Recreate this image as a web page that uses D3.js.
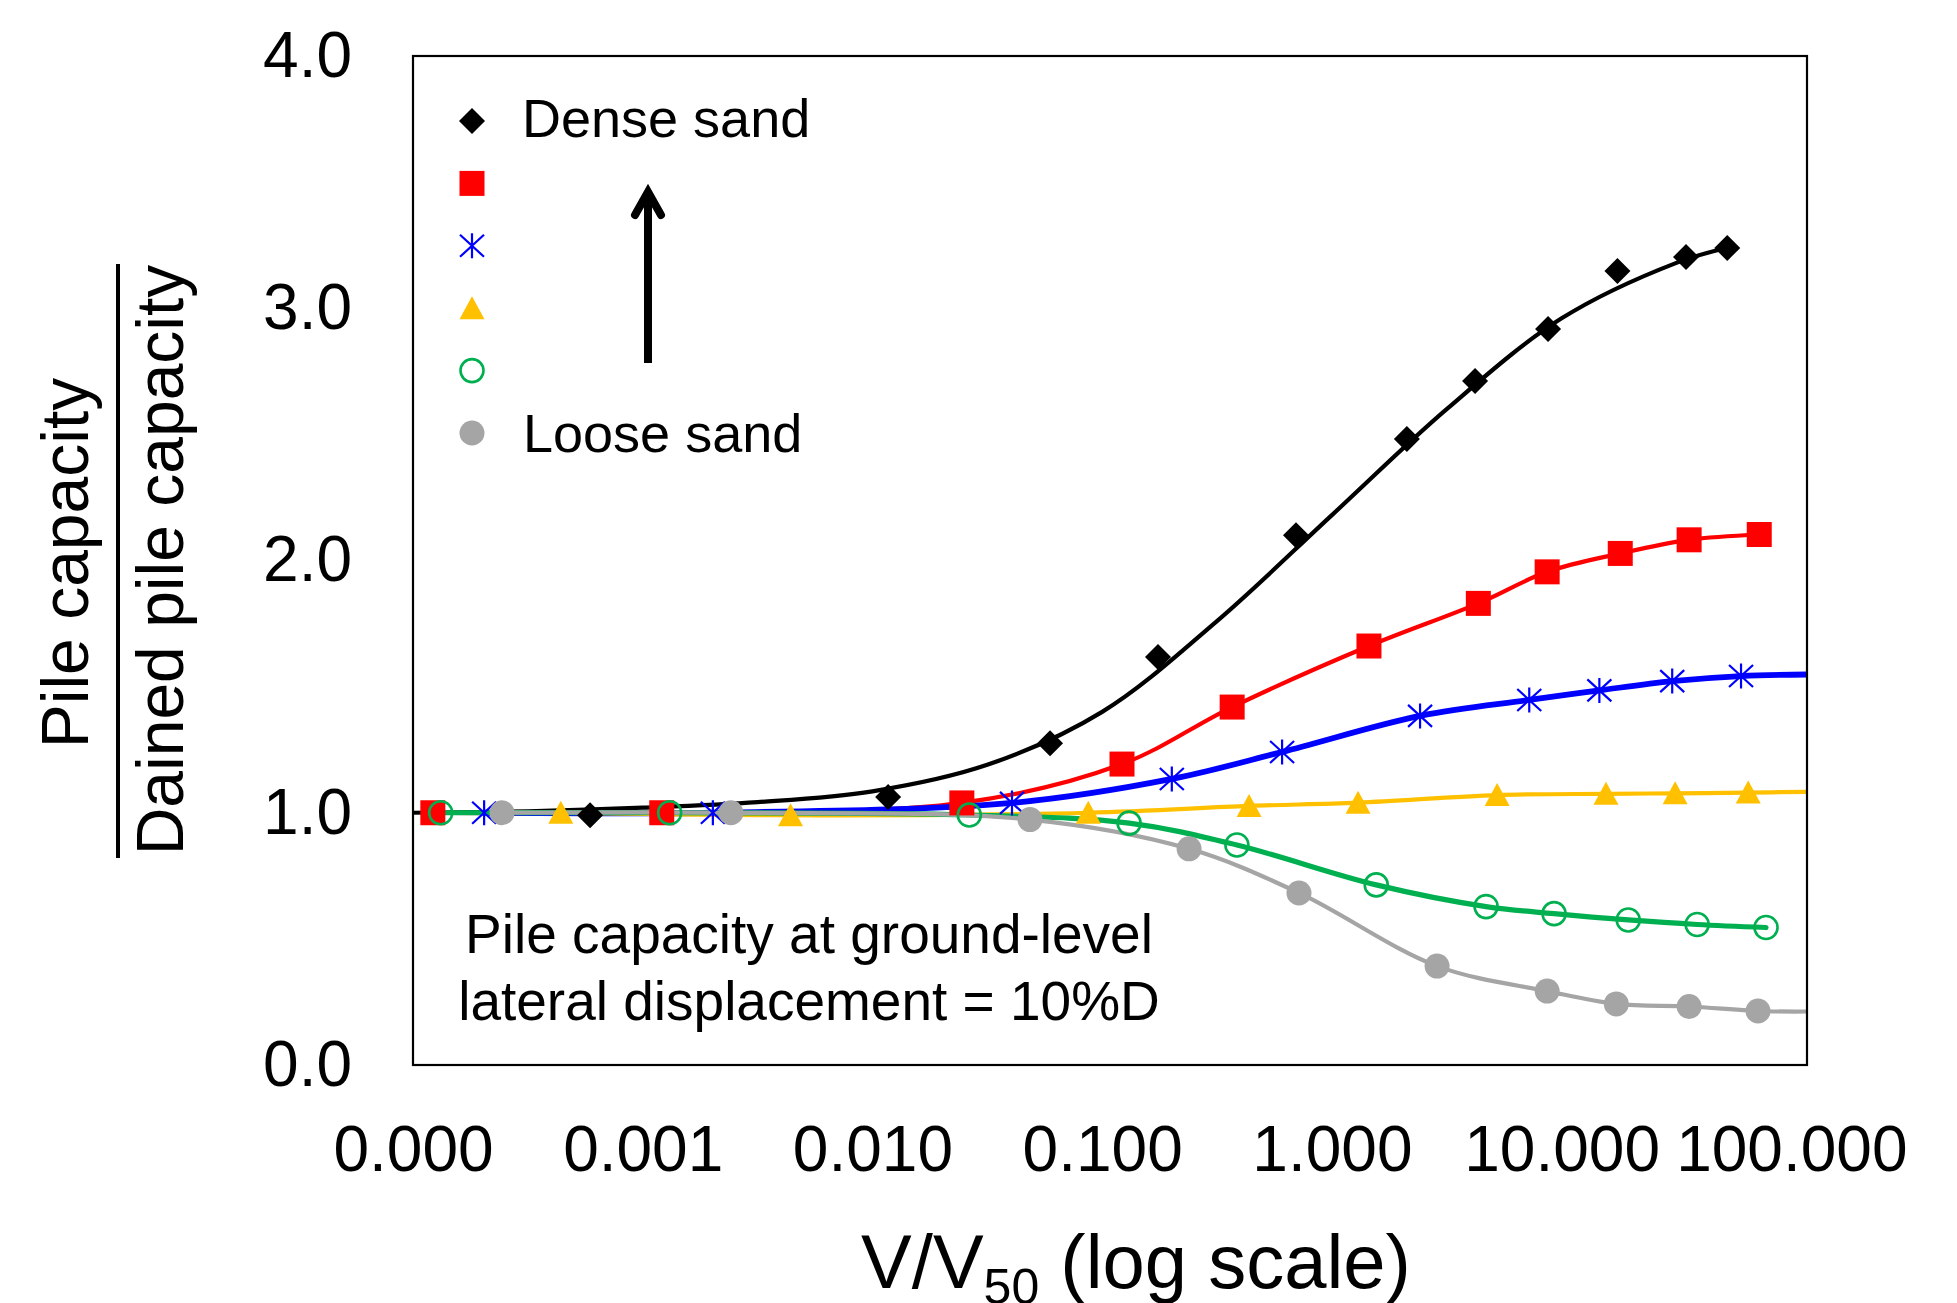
<!DOCTYPE html>
<html>
<head>
<meta charset="utf-8">
<script src="https://cdn.jsdelivr.net/npm/d3@7"></script>
<style>
  html, body { margin: 0; background: #fff; }
  svg { display: block; font-family: "Liberation Sans", Arial, Helvetica, sans-serif; }
</style>
</head>
<body>
<svg id="chart" width="1957" height="1303"></svg>
<script>
// [V/V50, pile capacity / drained pile capacity]
const dense  = [[5.9e-4, 0.99], [0.0117, 1.062], [0.0593, 1.276], [0.175, 1.617], [0.698, 2.10],
                [2.12, 2.482], [4.2, 2.712], [8.73, 2.918], [17.5, 3.148], [34.8, 3.203], [52.6, 3.239]];
const red    = [[1.22e-4, 1.0], [1.21e-3, 1.0], [0.0245, 1.039], [0.122, 1.193], [0.368, 1.419],
                [1.45, 1.661], [4.34, 1.83], [8.65, 1.955], [18.0, 2.028], [35.9, 2.082], [72.5, 2.103]];
const blue   = [[2.04e-4, 1.0], [2.02e-3, 1.0], [0.0405, 1.039], [0.201, 1.134], [0.607, 1.241],
                [2.42, 1.384], [7.23, 1.447], [14.6, 1.485], [30.3, 1.522], [60.4, 1.542]];
const yellow = [[4.4e-4, 1.0], [4.4e-3, 0.99], [0.087, 1.0], [0.436, 1.027], [1.30, 1.04],
                [5.24, 1.07], [15.6, 1.075], [31.2, 1.077], [64.9, 1.08]];
const green  = [[1.32e-4, 1.0], [1.31e-3, 1.0], [0.0264, 0.991], [0.131, 0.959], [0.386, 0.872],
                [1.56, 0.714], [4.69, 0.628], [9.27, 0.60], [19.5, 0.575], [38.9, 0.557], [77.6, 0.545]];
const loose  = [[2.44e-4, 1.0], [2.42e-3, 1.0], [0.0485, 0.973], [0.239, 0.857], [0.719, 0.682],
                [2.87, 0.392], [8.65, 0.293], [17.3, 0.242], [35.9, 0.232], [71.6, 0.214]];

// the dense sand curve is a fitted line, it does not go through the markers;
// read every half decade
const denseFit = [[1e-4, 1.0], [3.16e-4, 1.006], [1e-3, 1.02], [3.16e-3, 1.042], [0.01, 1.085],
                  [0.0316, 1.19], [0.1, 1.40], [0.316, 1.76], [1, 2.18], [3.16, 2.60],
                  [10, 2.96], [31.6, 3.18], [52.6, 3.24]];
// where the curves that run past the last marker meet the right edge
const blueEdge = 1.548;
const yellowEdge = 1.083;
const looseEdge = 0.212;

const xTicks = [1e-4, 1e-3, 1e-2, 1e-1, 1, 10, 100];
const yTicks = [0, 1, 2, 3, 4];
const xMin = 1e-4, xMax = 117;

const width = 1957, height = 1303;
const plot = {left: 413, top: 56, right: 1807, bottom: 1065};

const svg = d3.select('#chart');

const xScale = d3.scaleLog().domain([xMin, xMax]).range([plot.left, plot.right]);
const yScale = d3.scaleLinear().domain([0, 4]).range([plot.bottom, plot.top]);

const series = [
  {key: 'dense',  color: '#000000', shape: 'diamond',  points: dense,  line: denseFit, lw: 4.2},
  {key: 'red',    color: '#FF0000', shape: 'square',   points: red,    line: red, lw: 4.2},
  {key: 'blue',   color: '#0000FF', shape: 'star',     points: blue,   line: blue.concat([[xMax, blueEdge]]), lw: 5.8},
  {key: 'yellow', color: '#FFC000', shape: 'triangle', points: yellow, line: yellow.concat([[xMax, yellowEdge]]), lw: 4.2},
  {key: 'green',  color: '#00B050', shape: 'ring',     points: green,  line: green, lw: 5.2},
  {key: 'loose',  color: '#A5A5A5', shape: 'dot',      points: loose,  line: loose.concat([[xMax, looseEdge]]), lw: 4.2},
];

function markerPath(shape) {
  const p = d3.path();
  if (shape === 'diamond') {
    p.moveTo(0, -13); p.lineTo(13, 0); p.lineTo(0, 13); p.lineTo(-13, 0); p.closePath();
  } else if (shape === 'square') {
    p.rect(-12.5, -12.5, 25, 25);
  } else if (shape === 'star') {
    p.moveTo(0, -12.5); p.lineTo(0, 12.5);
    p.moveTo(-12, -11); p.lineTo(12, 11);
    p.moveTo(-12, 11); p.lineTo(12, -11);
  } else if (shape === 'triangle') {
    p.moveTo(0, -12); p.lineTo(12.5, 11); p.lineTo(-12.5, 11); p.closePath();
  } else {
    p.arc(0, 0, shape === 'ring' ? 11.5 : 12.5, 0, 2 * Math.PI);
  }
  return p.toString();
}

function styleMarker(sel, d) {
  sel.attr('d', markerPath(d.shape));
  if (d.shape === 'star') {
    sel.attr('fill', 'none').attr('stroke', d.color).attr('stroke-width', 2.2);
  } else if (d.shape === 'ring') {
    sel.attr('fill', 'none').attr('stroke', d.color).attr('stroke-width', 2.6);
  } else {
    sel.attr('fill', d.color);
  }
}

svg.append('rect').attr('width', width).attr('height', height).attr('fill', '#fff');

svg.append('clipPath').attr('id', 'plot-clip')
  .append('rect')
    .attr('x', plot.left).attr('y', plot.top)
    .attr('width', plot.right - plot.left).attr('height', plot.bottom - plot.top);

// axes: labels only, the frame is drawn as a box
svg.append('g')
    .attr('transform', `translate(${plot.left},0)`)
    .call(d3.axisLeft(yScale).tickValues(yTicks).tickFormat(d3.format('.1f')).tickSize(0).tickPadding(61))
    .call(g => g.select('.domain').remove())
    .call(g => g.selectAll('text').attr('font-size', 64).attr('fill', '#000')
      .attr('font-family', '"Liberation Sans", Arial, sans-serif'));

svg.append('g')
    .attr('transform', `translate(0,${plot.bottom})`)
    .call(d3.axisBottom(xScale).tickValues(xTicks).tickFormat(d3.format('.3f')).tickSize(0).tickPadding(61))
    .call(g => g.select('.domain').remove())
    .call(g => g.selectAll('text').attr('font-size', 64).attr('fill', '#000')
      .attr('font-family', '"Liberation Sans", Arial, sans-serif'));

// centripetal Catmull-Rom keeps the smoothed curves free of kinks at uneven spacing
const line = d3.line()
  .x(d => xScale(d[0]))
  .y(d => yScale(d[1]))
  .curve(d3.curveCatmullRom.alpha(0.5));

const plotArea = svg.append('g').attr('clip-path', 'url(#plot-clip)');

plotArea.selectAll('path.curve')
  .data(series)
  .join('path')
    .classed('curve', true)
    .attr('fill', 'none')
    .attr('stroke', d => d.color)
    .attr('stroke-width', d => d.lw)
    .attr('stroke-linecap', 'round')
    .attr('stroke-linejoin', 'round')
    .attr('d', d => line(d.line));

// markers go on top of all the curves
series.forEach(s => {
  svg.append('g').selectAll('path')
    .data(s.points)
    .join('path')
      .attr('transform', d => `translate(${xScale(d[0])},${yScale(d[1])})`)
      .each(function() { styleMarker(d3.select(this), s); });
});

svg.append('rect')
  .attr('x', plot.left).attr('y', plot.top)
  .attr('width', plot.right - plot.left).attr('height', plot.bottom - plot.top)
  .attr('fill', 'none').attr('stroke', '#000').attr('stroke-width', 2.2);

// legend
const legendX = 472, legendY = 121, legendStep = 62.4;
series.forEach((s, i) => {
  svg.append('path')
    .attr('transform', `translate(${legendX},${legendY + i * legendStep})`)
    .call(sel => styleMarker(sel, s));
});
svg.append('text').attr('x', 522).attr('y', legendY + 16)
  .attr('font-size', 54).text('Dense sand');
svg.append('text').attr('x', 523).attr('y', legendY + 5 * legendStep + 19)
  .attr('font-size', 54).text('Loose sand');

// arrow from loose to dense
svg.append('line')
  .attr('x1', 648).attr('y1', 363).attr('x2', 648).attr('y2', 194)
  .attr('stroke', '#000').attr('stroke-width', 8);
svg.append('polyline')
  .attr('points', '635,215 648,192 661,215')
  .attr('fill', 'none').attr('stroke', '#000').attr('stroke-width', 8)
  .attr('stroke-linecap', 'round').attr('stroke-linejoin', 'miter');

// note
const note = svg.append('text').attr('text-anchor', 'middle').attr('font-size', 55);
note.append('tspan').attr('x', 809).attr('y', 953).text('Pile capacity at ground-level');
note.append('tspan').attr('x', 809).attr('y', 1020).text('lateral displacement = 10%D');

// x title with subscript, cut by the bottom edge as in the figure
const xTitle = svg.append('text')
  .attr('x', 1136).attr('y', 1288)
  .attr('text-anchor', 'middle').attr('font-size', 76);
xTitle.append('tspan').text('V/V');
xTitle.append('tspan').attr('font-size', 50).attr('dy', 16).text('50');
xTitle.append('tspan').attr('dy', -16).text(' (log scale)');

// y title as a fraction
svg.append('text')
  .attr('transform', 'translate(88,563) rotate(-90)')
  .attr('text-anchor', 'middle').attr('font-size', 66)
  .text('Pile capacity');
svg.append('line')
  .attr('x1', 118).attr('x2', 118).attr('y1', 264).attr('y2', 858)
  .attr('stroke', '#000').attr('stroke-width', 4);
svg.append('text')
  .attr('transform', 'translate(183,560) rotate(-90)')
  .attr('text-anchor', 'middle').attr('font-size', 66)
  .text('Dained pile capacity');
</script>
</body>
</html>
